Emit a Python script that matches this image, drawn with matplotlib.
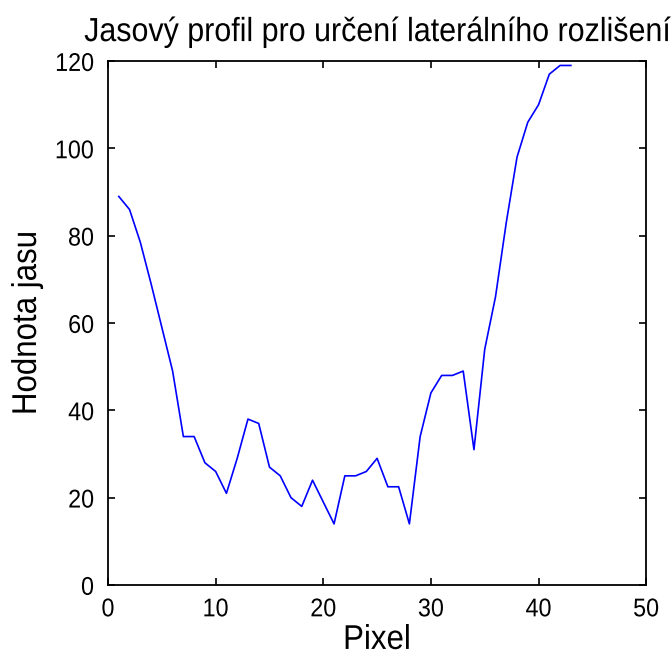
import matplotlib
matplotlib.use("Agg")
import matplotlib.pyplot as plt
from matplotlib import patheffects
from matplotlib.transforms import Affine2D

# brightness profile across the edge
pixel = list(range(1, 44))
jas = [89, 86, 78.5, 69, 59, 49, 34, 34, 28, 26,
       21, 29, 38, 37, 27, 25, 20, 18, 24, 19,
       14, 25, 25, 26, 29, 22.5, 22.5, 14, 34, 44,
       48, 48, 49, 31, 54, 66, 83, 98, 106, 110,
       117, 119, 119]

x_ticks = [0, 10, 20, 30, 40, 50]
y_ticks = [0, 20, 40, 60, 80, 100, 120]

plt.rcParams["font.family"] = ["Liberation Sans", "DejaVu Sans"]


class TallText(patheffects.AbstractPathEffect):
    """Draw text glyphs a little taller than the font makes them."""

    def __init__(self, sy=1.1):
        super().__init__()
        self.sy = sy

    def draw_path(self, renderer, gc, tpath, affine, rgbFace=None):
        # glyph paths come in units of 100 per em; stretch about mid cap height
        t = Affine2D().translate(0, -36).scale(1, self.sy).translate(0, 36) + affine
        renderer.draw_path(gc, tpath, t, rgbFace)


TALL = [TallText(1.1)]


def main():
    fig = plt.figure(figsize=(6.71, 6.59), dpi=100)
    ax = fig.add_axes([0.161, 0.1123, 0.802, 0.795])

    ax.plot(pixel, jas, color="#0000ff", linewidth=1.2)

    ax.set_xlim(0, 50)
    ax.set_ylim(0, 120)
    ax.set_xticks(x_ticks)
    ax.set_yticks(y_ticks)
    ax.tick_params(direction="in", length=5, width=1.2, top=True, right=True,
                   labelsize=16.8, colors="#000000")
    ax.tick_params(axis="x", pad=9)
    ax.tick_params(axis="y", pad=10)
    for sp in ax.spines.values():
        sp.set_linewidth(1.3)
    for lab in ax.get_xticklabels() + ax.get_yticklabels():
        lab.set_path_effects(TALL)

    xl = ax.set_xlabel("Pixel", fontsize=22.5)
    ax.xaxis.set_label_coords(0.5, -0.076)
    yl = ax.set_ylabel("Hodnota jasu", fontsize=22.5)
    ax.yaxis.set_label_coords(-0.123, 0.5)
    xl.set_path_effects(TALL)
    yl.set_path_effects(TALL)

    t = fig.text(0.5618, 1 - 40 / 659, "Jasový profil pro určení laterálního rozlišení",
                 fontsize=21.9, ha="center", va="baseline")
    t.set_path_effects(TALL)

    fig.savefig("out.png", dpi=100)


if __name__ == "__main__":
    main()
